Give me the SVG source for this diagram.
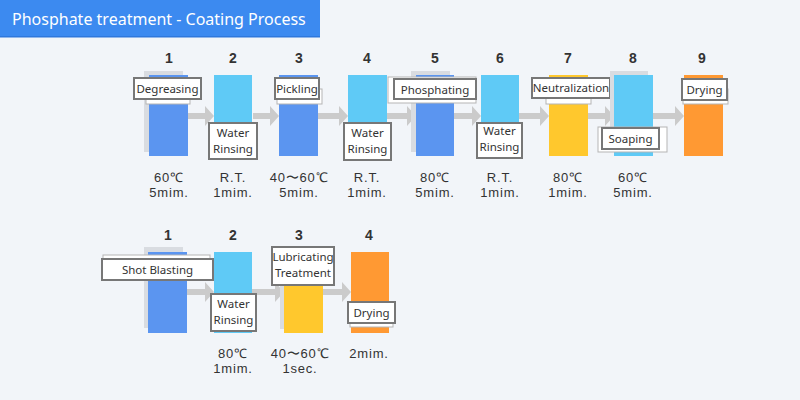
<svg xmlns="http://www.w3.org/2000/svg" width="800" height="400" viewBox="0 0 800 400">
<defs>
<style>
.bg{fill:#f2f5f9}
.num{font-family:"Liberation Sans",Arial,sans-serif;font-weight:bold;font-size:14px;fill:#333;text-anchor:middle}
.lbl{font-family:"Noto Sans",sans-serif;font-size:11.5px;fill:#333;text-anchor:middle}
.cond{font-family:"Liberation Sans",Arial,sans-serif;font-size:13px;letter-spacing:0.8px;fill:#333;text-anchor:middle}
.box{fill:#fff;stroke:#777;stroke-width:2}
.sh{fill:#fff;stroke:#b5b5b5;stroke-width:1}
.tsh{fill:#d9dce1}
.blue{fill:#5b95f0}
.lblue{fill:#5fcaf6}
.yel{fill:#ffc82d}
.org{fill:#ff9933}
.arr{fill:#cbcbcb}
</style>
</defs>
<rect class="bg" x="0" y="0" width="800" height="400"/>
<g id="title">
<rect x="0" y="0" width="320" height="37" fill="#3c8af0"/>
<rect x="0" y="36" width="320" height="1.5" fill="#2f78dc"/>
<text x="12" y="24.5" font-family="Noto Sans,sans-serif" font-size="16" fill="#fff">Phosphate treatment - Coating Process</text>
</g>
<g id="connectors">
<path class="arr" d="M188 113h17v-7l9 10l-9 10v-7h-17z"/>
<path class="arr" d="M253 113h17v-7l9 10l-9 10v-7h-17z"/>
<path class="arr" d="M318 113h21v-7l9 10l-9 10v-7h-21z"/>
<path class="arr" d="M387 113h20v-7l9 10l-9 10v-7h-20z"/>
<path class="arr" d="M454 113h18v-7l9 10l-9 10v-7h-18z"/>
<path class="arr" d="M519 113h21v-7l9 10l-9 10v-7h-21z"/>
<path class="arr" d="M588 113h17v-7l9 10l-9 10v-7h-17z"/>
<path class="arr" d="M653 113h22v-7l9 10l-9 10v-7h-22z"/>
<path class="arr" d="M187 289h18v-7l9 10l-9 10v-7h-18z"/>
<path class="arr" d="M252 289h23v-7l9 10l-9 10v-7h-23z"/>
<path class="arr" d="M323 289h19v-7l9 10l-9 10v-7h-19z"/>
</g>
<g id="s1">
<text class="num" x="169" y="63">1</text>
<rect class="tsh" x="144" y="71" width="39" height="81"/>
<rect class="blue" x="149" y="75" width="39" height="81"/>
<rect class="sh" x="146" y="88" width="44" height="16"/>
<rect class="box" x="134" y="78" width="67" height="21"/>
<text class="lbl" x="167.5" y="93">Degreasing</text>
<text class="cond" x="169" y="182">60℃</text>
<text class="cond" x="169" y="197">5mim.</text>
</g>
<g id="s2">
<text class="num" x="233" y="63">2</text>
<rect class="lblue" x="214" y="75" width="38" height="81"/>
<rect class="box" x="209" y="123" width="48" height="36"/>
<text class="lbl" x="233" y="137">Water</text>
<text class="lbl" x="233" y="153">Rinsing</text>
<text class="cond" x="233" y="182">R.T.</text>
<text class="cond" x="233" y="197">1mim.</text>
</g>
<g id="s3">
<text class="num" x="299" y="63">3</text>
<rect class="blue" x="279" y="75" width="39" height="81"/>
<rect class="sh" x="277" y="89" width="45" height="15"/>
<rect class="box" x="275" y="78" width="44" height="21"/>
<text class="lbl" x="297" y="93">Pickling</text>
<text class="cond" x="299" y="182">40〜60℃</text>
<text class="cond" x="299" y="197">5mim.</text>
</g>
<g id="s4">
<text class="num" x="367" y="63">4</text>
<rect class="lblue" x="348" y="75" width="39" height="81"/>
<rect class="box" x="344" y="123" width="47" height="37"/>
<text class="lbl" x="367.5" y="137">Water</text>
<text class="lbl" x="367.5" y="153">Rinsing</text>
<text class="cond" x="367" y="182">R.T.</text>
<text class="cond" x="367" y="197">1mim.</text>
</g>
<g id="s5">
<text class="num" x="435" y="63">5</text>
<rect class="tsh" x="411" y="71" width="39" height="81"/>
<rect class="blue" x="416" y="75" width="38" height="81"/>
<rect class="sh" x="388" y="77" width="88" height="26"/>
<rect class="box" x="394" y="79" width="82" height="20"/>
<text class="lbl" x="435" y="93.5">Phosphating</text>
<text class="cond" x="435" y="182">80℃</text>
<text class="cond" x="435" y="197">5mim.</text>
</g>
<g id="s6">
<text class="num" x="500" y="63">6</text>
<rect class="lblue" x="481" y="75" width="38" height="81"/>
<rect class="box" x="477" y="123" width="45" height="35"/>
<text class="lbl" x="499.5" y="135">Water</text>
<text class="lbl" x="499.5" y="151">Rinsing</text>
<text class="cond" x="500" y="182">R.T.</text>
<text class="cond" x="500" y="197">1mim.</text>
</g>
<g id="s7">
<text class="num" x="568" y="63">7</text>
<rect class="yel" x="549" y="75" width="39" height="81"/>
<rect class="sh" x="546" y="88" width="45" height="16"/>
<rect class="box" x="532" y="78" width="78" height="20"/>
<text class="lbl" x="571" y="92" font-size="11">Neutralization</text>
<text class="cond" x="568" y="182">80℃</text>
<text class="cond" x="568" y="197">1mim.</text>
</g>
<g id="s8">
<text class="num" x="633" y="63">8</text>
<rect class="tsh" x="610" y="71" width="38" height="81"/>
<rect class="lblue" x="614" y="75" width="39" height="81"/>
<rect class="sh" x="598" y="127" width="69" height="25"/>
<rect class="box" x="602" y="128" width="57" height="21"/>
<text class="lbl" x="630.5" y="143">Soaping</text>
<text class="cond" x="633" y="182">60℃</text>
<text class="cond" x="633" y="197">5mim.</text>
</g>
<g id="s9">
<text class="num" x="702" y="63">9</text>
<rect class="org" x="684" y="75" width="39" height="81"/>
<rect class="sh" x="683" y="89" width="45" height="15"/>
<rect class="box" x="682" y="79" width="45" height="21"/>
<text class="lbl" x="704.5" y="94">Drying</text>
</g>
<g id="r2s1">
<text class="num" x="168" y="240">1</text>
<rect class="tsh" x="144" y="247" width="39" height="81"/>
<rect class="blue" x="148" y="252" width="39" height="81"/>
<rect class="sh" x="103" y="255" width="107" height="15"/>
<rect class="box" x="102" y="259" width="111" height="21"/>
<text class="lbl" x="157.5" y="274">Shot Blasting</text>
</g>
<g id="r2s2">
<text class="num" x="233" y="240">2</text>
<rect class="lblue" x="214" y="252" width="38" height="81"/>
<rect class="box" x="211" y="294" width="45" height="37"/>
<text class="lbl" x="233.5" y="308">Water</text>
<text class="lbl" x="233.5" y="324">Rinsing</text>
<text class="cond" x="233" y="358">80℃</text>
<text class="cond" x="233" y="373">1mim.</text>
</g>
<g id="r2s3">
<text class="num" x="299" y="240">3</text>
<rect class="tsh" x="280" y="256" width="39" height="73"/>
<rect class="yel" x="284" y="252" width="39" height="81"/>
<rect class="box" x="272" y="247" width="62" height="38"/>
<text class="lbl" x="303" y="261" font-size="11">Lubricating</text>
<text class="lbl" x="303" y="277" font-size="11">Treatment</text>
<text class="cond" x="300" y="358">40〜60℃</text>
<text class="cond" x="300" y="373">1sec.</text>
</g>
<g id="r2s4">
<text class="num" x="369" y="240">4</text>
<rect class="org" x="351" y="252" width="38" height="81"/>
<rect class="sh" x="350" y="311" width="43" height="16"/>
<rect class="box" x="348" y="302" width="47" height="21"/>
<text class="lbl" x="371.5" y="317">Drying</text>
<text class="cond" x="369" y="358">2mim.</text>
</g>
</svg>
